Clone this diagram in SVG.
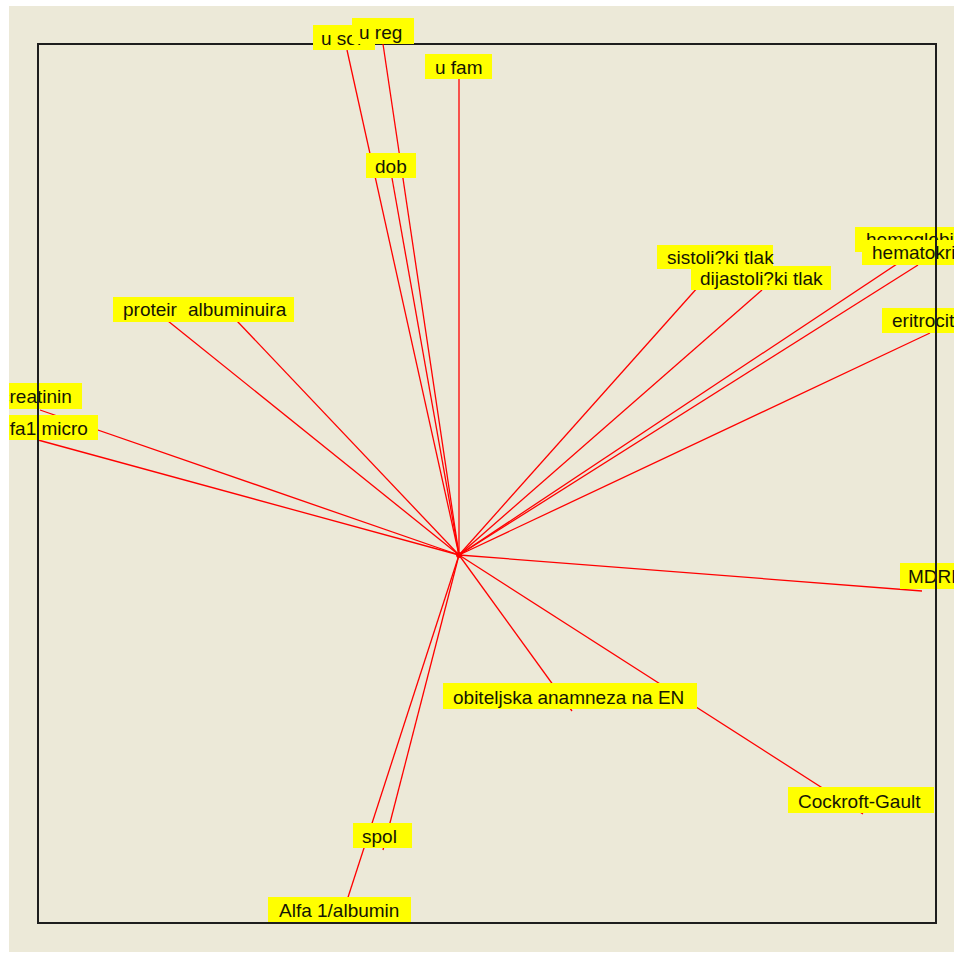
<svg xmlns="http://www.w3.org/2000/svg" width="954" height="956" viewBox="0 0 954 956">
<style>
.bg{fill:#ECE9D8}
.frame{stroke:#1e1e1e;stroke-width:2;fill:none}
.con line{stroke:#ff0000;stroke-width:1.3}
.lbl rect{fill:#ffff00}
.lbl text{font-family:"Liberation Sans",Arial,sans-serif;font-size:19px;fill:#151505}
</style>
<defs>
<clipPath id="area"><rect x="9" y="6" width="945" height="946"/></clipPath>
</defs>
<rect width="954" height="956" fill="#ffffff"/>
<g clip-path="url(#area)">
<rect class="bg" x="9" y="6" width="945" height="946"/>
<g id="frame-hz" class="frame">
<line x1="37" y1="44" x2="937" y2="44"/>
<line x1="37" y1="923" x2="937" y2="923"/>
</g>
<g id="connectors" class="con">
<line x1="459" y1="555" x2="347" y2="50"/>
<line x1="459" y1="555" x2="383" y2="44"/>
<line x1="459" y1="555" x2="459" y2="79"/>
<line x1="459" y1="555" x2="392" y2="178"/>
<line x1="459" y1="555" x2="168" y2="321"/>
<line x1="459" y1="555" x2="237" y2="321"/>
<line x1="459" y1="555" x2="40" y2="410"/>
<line x1="459" y1="555" x2="38" y2="440"/>
<line x1="459" y1="555" x2="715" y2="268"/>
<line x1="459" y1="555" x2="762" y2="290"/>
<line x1="459" y1="555" x2="915" y2="252"/>
<line x1="459" y1="555" x2="918" y2="265"/>
<line x1="459" y1="555" x2="930" y2="333"/>
<line x1="459" y1="555" x2="922" y2="591"/>
<line x1="459" y1="555" x2="572" y2="711"/>
<line x1="459" y1="555" x2="863" y2="814"/>
<line x1="459" y1="555" x2="383" y2="850"/>
<line x1="459" y1="555" x2="340" y2="922"/>
<circle cx="459" cy="555" r="3" fill="#ff0000"/>
</g>
<g id="n-usol" class="lbl"><rect x="313" y="25" width="62" height="25"/><text x="321" y="45">u sol</text></g>
<g id="n-ureg" class="lbl"><rect x="352" y="18" width="62" height="26"/><text x="359" y="39">u reg</text></g>
<g id="n-ufam" class="lbl"><rect x="425" y="54" width="67" height="25"/><text x="435" y="74">u fam</text></g>
<g id="n-dob" class="lbl"><rect x="366" y="153" width="50" height="25"/><text x="375" y="173">dob</text></g>
<g id="n-proteir" class="lbl"><rect x="113" y="297" width="100" height="25"/><text x="123" y="316">proteir</text></g>
<g id="n-albuminuira" class="lbl"><rect x="178" y="297" width="116" height="25"/><text x="188" y="316">albuminuira</text></g>
<g id="n-sistolicki" class="lbl"><rect x="657" y="245" width="116" height="24"/><text x="667" y="264">sistoli?ki tlak</text></g>
<g id="n-dijastolicki" class="lbl"><rect x="691" y="266" width="140" height="24"/><text x="700" y="285">dijastoli?ki tlak</text></g>
<g id="n-hemoglobin" class="lbl"><rect x="855" y="227" width="120" height="25"/><text x="866" y="246">hemoglobin</text></g>
<g id="n-hematokrit" class="lbl"><rect x="862" y="240" width="110" height="25"/><text x="872" y="259">hematokrit</text></g>
<g id="n-eritrocit" class="lbl"><rect x="882" y="308" width="90" height="25"/><text x="892" y="327">eritrocit</text></g>
<g id="n-creatinin" class="lbl"><rect x="-10" y="383" width="92" height="26"/><text x="0" y="403">creatinin</text></g>
<g id="n-alfa1micro" class="lbl"><rect x="-15" y="415" width="113" height="25"/><text x="-5" y="435">alfa1 micro</text></g>
<g id="n-mdrd" class="lbl"><rect x="900" y="563" width="77" height="26"/><text x="908" y="583">MDRD</text></g>
<g id="n-obiteljska" class="lbl"><rect x="443" y="683" width="254" height="26"/><text x="453" y="704">obiteljska anamneza na EN</text></g>
<g id="n-cockroft" class="lbl"><rect x="788" y="787" width="146" height="26"/><text x="798" y="808">Cockroft-Gault</text></g>
<g id="n-spol" class="lbl"><rect x="353" y="823" width="59" height="25"/><text x="362" y="843">spol</text></g>
<g id="n-alfa1alb" class="lbl"><rect x="268" y="897" width="143" height="25"/><text x="279" y="917">Alfa 1/albumin</text></g>
<g id="frame-vt" class="frame">
<line x1="38" y1="43" x2="38" y2="924"/>
<line x1="936" y1="43" x2="936" y2="924"/>
</g>
</g>
</svg>
